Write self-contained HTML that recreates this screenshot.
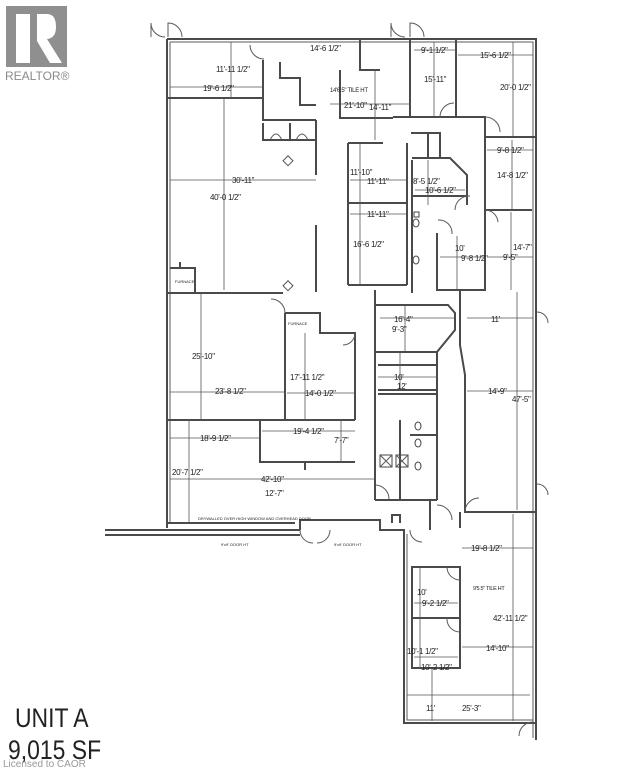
<!DOCTYPE html>
<html><head><meta charset="utf-8"><style>
html,body{margin:0;padding:0;background:#fff;width:625px;height:768px;overflow:hidden}
svg{display:block}
.w{stroke:#4a4a4a;stroke-width:2;fill:none}
.t{stroke:#5a5a5a;stroke-width:1;fill:none}
.d{stroke:#555;stroke-width:0.8;fill:none}
text{font-family:"Liberation Sans",sans-serif;fill:#222}
.l{font-size:8px;letter-spacing:-0.3px}
.s{font-size:4px}
</style></head><body>
<svg width="625" height="768" viewBox="0 0 625 768" xmlns="http://www.w3.org/2000/svg">
<!-- Realtor logo -->
<rect x="6" y="6" width="61" height="61" fill="#8f8f8f"/>
<rect x="16" y="14" width="14" height="49" fill="#fff"/>
<path d="M37 14 H47 Q56 14 56 27 Q56 38 47 39 L62 63 H50 L37 41 Z" fill="#fff"/>
<text x="5" y="80" style="font-size:12px;fill:#8a8a8a">REALTOR®</text>

<!-- outer walls -->
<path class="w" d="M167 39 H536 V740"/>
<path class="t" d="M170 42 H533 V738"/>
<path class="w" d="M167 39 V528"/>
<path class="t" d="M170 42 V524"/>
<path class="w" d="M105 535 H300 M105 530 H300 M300 530 V520 H380 V530 H404 V723 H536"/>
<path class="t" d="M407 534 V720 H533"/>
<!-- door swings top -->
<path class="t" d="M165 37 A14 14 0 0 1 151 23 V37 M168 37 V23 A14 14 0 0 1 182 37"/>
<path class="t" d="M405 37 A14 14 0 0 1 391 23 V37 M410 37 V23 A14 14 0 0 1 424 37"/>

<!-- top-left room -->
<path class="w" d="M167 98 H263 M263 60 V120 H316 M280 62 V78 H300 V105 H316"/>
<line class="d" x1="170" y1="87" x2="263" y2="87"/><line class="d" x1="231" y1="42" x2="231" y2="98"/>
<path class="t" d="M250 45 A14 14 0 0 0 264 59"/>
<path class="w" d="M263 123 V140 H316 M290 123 V140"/>
<path class="t" d="M270 140 Q276 128 282 140 M296 140 Q302 128 308 140"/>
<!-- big room -->
<line class="d" x1="224" y1="98" x2="224" y2="290"/><line class="d" x1="170" y1="180" x2="316" y2="180"/>
<path class="w" d="M316 120 V175 M316 225 V292 M167 293 H283"/>
<rect x="285" y="157" width="7" height="7" transform="rotate(45 288 160)" fill="none" stroke="#555"/>
<rect x="285" y="282" width="7" height="7" transform="rotate(45 288 285)" fill="none" stroke="#555"/>
<path class="w" d="M170 268 H195 V293 M180 268 V262"/>
<text x="175" y="283" class="s">FURNACE</text>
<!-- top middle -->
<path class="w" d="M360 39 V70 H380 M340 70 V118 H393 M410 39 V117 M456 39 V117 M393 117 H485 V137 H535 M485 137 V210 H532"/>
<line class="d" x1="330" y1="104" x2="410" y2="104"/><line class="d" x1="375" y1="70" x2="375" y2="140"/>
<line class="d" x1="414" y1="50" x2="456" y2="50"/><line class="d" x1="434" y1="42" x2="434" y2="117"/>
<line class="d" x1="458" y1="55" x2="533" y2="55"/><line class="d" x1="513" y1="42" x2="513" y2="137"/>
<line class="d" x1="487" y1="150" x2="533" y2="150"/><line class="d" x1="512" y1="140" x2="512" y2="210"/>
<path class="t" d="M440 117 A14 14 0 0 1 454 103 M485 117 A15 15 0 0 1 500 132"/>
<!-- office 11-10 -->
<path class="w" d="M348 143 H383 M348 143 V285 M407 143 V285 M348 203 H407 M348 285 H407"/>
<line class="d" x1="360" y1="143" x2="360" y2="285"/><line class="d" x1="350" y1="180" x2="407" y2="180"/>
<line class="d" x1="350" y1="214" x2="407" y2="214"/>
<path class="w" d="M412 160 V218 M412 158 H450 L467 175 V205 M412 196 H466 M412 205 V293 M437 233 V290 H485 V233 M485 210 V290"/>
<path class="w" d="M411 133 H440 V158 M428 133 V158"/>
<line class="d" x1="415" y1="190" x2="465" y2="190"/><line class="d" x1="428" y1="160" x2="428" y2="205"/>
<path class="t" d="M455 210 A14 14 0 0 1 470 196 M485 210 A13 13 0 0 1 498 222 M438 220 A13 13 0 0 1 452 234"/>
<line class="d" x1="440" y1="257" x2="485" y2="257"/><line class="d" x1="487" y1="257" x2="533" y2="257"/>
<line class="d" x1="457" y1="236" x2="457" y2="290"/><line class="d" x1="511" y1="212" x2="511" y2="290"/>
<rect x="414" y="212" width="5" height="5" fill="none" stroke="#444"/><ellipse cx="416" cy="223" rx="3" ry="4" fill="none" stroke="#444"/>
<ellipse cx="416" cy="260" rx="3" ry="4" fill="none" stroke="#444"/>

<!-- middle corridor -->
<path class="w" d="M375 290 V500 M375 305 H448 L455 313 V330 L437 352 V500 M460 290 V345 L465 375 V512 H535"/>
<line class="d" x1="380" y1="318" x2="455" y2="318"/><line class="d" x1="405" y1="305" x2="405" y2="352"/>
<path class="w" d="M375 352 H437 M378 365 H437 M378 390 H437 M378 394 H437"/>
<line class="d" x1="378" y1="377" x2="437" y2="377"/><line class="d" x1="400" y1="352" x2="400" y2="390"/>
<path class="w" d="M400 420 V500 M375 500 H437 M410 435 H437"/>
<rect x="380" y="455" width="12" height="12" fill="none" stroke="#444"/><path class="t" d="M380 455 L392 467 M392 455 L380 467"/>
<rect x="396" y="455" width="12" height="12" fill="none" stroke="#444"/><path class="t" d="M396 455 L408 467 M408 455 L396 467"/>
<ellipse cx="418" cy="426" rx="3" ry="4" fill="none" stroke="#444"/><ellipse cx="418" cy="443" rx="3" ry="4" fill="none" stroke="#444"/>
<ellipse cx="418" cy="466" rx="3" ry="4" fill="none" stroke="#444"/>
<!-- right room -->
<line class="d" x1="467" y1="318" x2="533" y2="318"/><line class="d" x1="467" y1="391" x2="533" y2="391"/>
<line class="d" x1="517" y1="292" x2="517" y2="510"/>
<path class="t" d="M537 312 A11 11 0 0 1 548 323 M537 484 A11 11 0 0 1 548 495"/>
<path class="t" d="M465 512 A14 14 0 0 1 479 498"/>

<!-- left middle rooms -->
<path class="w" d="M285 313 V420 M285 313 H320 V333 H355 V420 M167 420 H355 M260 420 V462 H355 M305 462 V470"/>
<line class="d" x1="201" y1="293" x2="201" y2="420"/><line class="d" x1="170" y1="392" x2="285" y2="392"/>
<line class="d" x1="305" y1="333" x2="305" y2="420"/><line class="d" x1="287" y1="393" x2="355" y2="393"/>
<line class="d" x1="262" y1="431" x2="355" y2="431"/><line class="d" x1="341" y1="420" x2="341" y2="462"/>
<line class="d" x1="170" y1="438" x2="260" y2="438"/><line class="d" x1="189" y1="420" x2="189" y2="523"/>
<line class="d" x1="170" y1="479" x2="375" y2="479"/>
<path class="w" d="M167 523 H295"/>
<text x="288" y="325" class="s">FURNACE</text>
<path class="t" d="M285 313 A14 14 0 0 0 271 299 M355 333 A12 12 0 0 1 343 345 M375 485 A14 14 0 0 1 389 499"/>
<path class="t" d="M300 530 A13 13 0 0 0 313 543 M330 530 A13 13 0 0 1 317 543"/>
<path class="w" d="M392 523 V515 H400 V523 M430 500 V530"/>
<path class="t" d="M437 505 A15 15 0 0 1 452 520 M410 530 A12 12 0 0 0 422 542"/>

<!-- lower unit -->
<path class="w" d="M460 512 V528 M412 567 H460 V618 H412 Z M412 618 H460 V668 H412 Z"/>
<line class="d" x1="462" y1="548" x2="533" y2="548"/><line class="d" x1="513" y1="514" x2="513" y2="721"/>
<line class="d" x1="462" y1="647" x2="533" y2="647"/><line class="d" x1="407" y1="695" x2="530" y2="695"/>
<line class="d" x1="432" y1="668" x2="432" y2="721"/><line class="d" x1="420" y1="567" x2="420" y2="668"/>
<line class="d" x1="414" y1="603" x2="458" y2="603"/><line class="d" x1="414" y1="657" x2="458" y2="657"/>
<path class="t" d="M460 580 A13 13 0 0 1 447 567 M460 632 A13 13 0 0 1 447 618 M533 722 A14 14 0 0 0 519 736"/>

<!-- labels -->
<g class="l">
<text x="216" y="72">11'-11 1/2"</text><text x="203" y="91">19'-6 1/2"</text>
<text x="310" y="51">14'-6 1/2"</text>
<text x="330" y="92" style="font-size:6px">14'6.5" TILE HT</text>
<text x="344" y="108">21'-10"</text><text x="369" y="110">14'-11"</text>
<text x="421" y="53">9'-1 1/2"</text><text x="424" y="82">15'-11"</text>
<text x="480" y="58">15'-6 1/2"</text><text x="500" y="90">20'-0 1/2"</text>
<text x="497" y="153">9'-8 1/2"</text><text x="497" y="178">14'-8 1/2"</text>
<text x="232" y="183">30'-11"</text><text x="210" y="200">40'-0 1/2"</text>
<text x="350" y="175">11'-10"</text><text x="367" y="184">11'-11"</text>
<text x="413" y="184">8'-5 1/2"</text><text x="425" y="193">10'-6 1/2"</text>
<text x="367" y="217">11'-11"</text><text x="353" y="247">16'-6 1/2"</text>
<text x="455" y="251">10'</text><text x="461" y="261">9'-8 1/2"</text>
<text x="513" y="250">14'-7"</text><text x="503" y="260">9'-5"</text>
<text x="394" y="322">16'-4"</text><text x="392" y="332">9'-3"</text>
<text x="491" y="322">11'</text>
<text x="192" y="359">25'-10"</text><text x="215" y="394">23'-8 1/2"</text>
<text x="290" y="380">17'-11 1/2"</text><text x="305" y="396">14'-0 1/2"</text>
<text x="394" y="380">10'</text><text x="397" y="389">12'</text>
<text x="488" y="394">14'-9"</text><text x="512" y="402">47'-5"</text>
<text x="293" y="434">19'-4 1/2"</text><text x="334" y="443">7'-7"</text>
<text x="200" y="441">18'-9 1/2"</text><text x="172" y="475">20'-7 1/2"</text>
<text x="261" y="482">42'-10"</text><text x="265" y="496">12'-7"</text>
<text x="471" y="551">19'-8 1/2"</text>
<text x="473" y="590" style="font-size:5.5px">9'5.5" TILE HT</text>
<text x="417" y="595">10'</text><text x="422" y="606">9'-2 1/2"</text>
<text x="493" y="621">42'-11 1/2"</text>
<text x="407" y="654">10'-1 1/2"</text><text x="421" y="670">10'-2 1/2"</text>
<text x="486" y="651">14'-10"</text>
<text x="426" y="711">11'</text><text x="462" y="711">25'-3"</text>
</g>
<text x="198" y="520" class="s">DRYWALLED OVER HIGH WINDOW AND OVERHEAD DOOR</text>
<text x="221" y="546" class="s">9'x9' DOOR HT</text><text x="334" y="546" class="s">9'x9' DOOR HT</text>
<text x="15" y="727" style="font-size:27px;transform:scaleX(0.85);transform-origin:15px 727px">UNIT A</text>
<text x="8" y="759" style="font-size:27px;transform:scaleX(0.85);transform-origin:8px 759px">9,015 SF</text>
<text x="3" y="767" style="font-size:10px;fill:#999">Licensed to CAOR</text>
</svg>
</body></html>
